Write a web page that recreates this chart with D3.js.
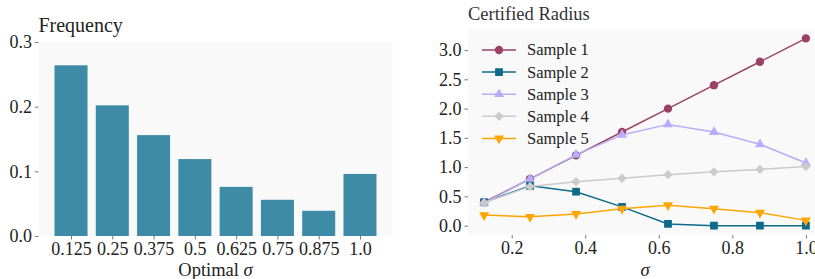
<!DOCTYPE html>
<html>
<head>
<meta charset="utf-8">
<script src="https://cdn.jsdelivr.net/npm/d3@7"></script>
<style>
  body { margin: 0; background: #fff; }
  svg text { font-family: "Liberation Serif", "Times New Roman", serif !important; }
</style>
</head>
<body>
<div id="chart"></div>
<script>
// left panel: frequency of the optimal sigma
const sigmaLabels = ['0.125', '0.25', '0.375', '0.5', '0.625', '0.75', '0.875', '1.0'];
const frequency = [0.264, 0.202, 0.156, 0.119, 0.076, 0.056, 0.039, 0.096];
const freqTicks = [0.0, 0.1, 0.2, 0.3];

// right panel: certified radius per sample
const sigmas = [0.125, 0.25, 0.375, 0.5, 0.625, 0.75, 0.875, 1.0];
const sample1 = [0.40, 0.80, 1.20, 1.60, 2.00, 2.40, 2.80, 3.20];
const sample2 = [0.40, 0.68, 0.58, 0.32, 0.03, 0.00, 0.00, 0.00];
const sample3 = [0.39, 0.80, 1.21, 1.55, 1.73, 1.60, 1.39, 1.07];
const sample4 = [0.39, 0.67, 0.75, 0.81, 0.87, 0.92, 0.96, 1.01];
const sample5 = [0.18, 0.15, 0.20, 0.29, 0.35, 0.29, 0.22, 0.09];
const sampleNames = ['Sample 1', 'Sample 2', 'Sample 3', 'Sample 4', 'Sample 5'];
const radiusTicks = [0.0, 0.5, 1.0, 1.5, 2.0, 2.5, 3.0];
const sigmaTicks = [0.2, 0.4, 0.6, 0.8, 1.0];

const W = 815, H = 279;
const bg = '#f9f9f9';
const tickColor = '#555';

const svg = d3.select('#chart').append('svg')
  .attr('width', W)
  .attr('height', H)
  .style('display', 'block');

// ---------- left: bar chart ----------
const L = { left: 38.4, right: 392.6, top: 42, bottom: 236 };

const xBar = d3.scaleLinear()
  .domain([-0.79, sigmaLabels.length - 1 + 0.79])
  .range([L.left, L.right]);

const yBar = d3.scaleLinear()
  .domain([0, 0.3])
  .range([L.bottom, L.top]);

const left = svg.append('g');

left.append('rect')
  .attr('x', L.left)
  .attr('y', L.top)
  .attr('width', L.right - L.left)
  .attr('height', L.bottom - L.top)
  .attr('fill', bg);

left.selectAll('rect.bar')
  .data(frequency)
  .enter()
  .append('rect')
  .attr('class', 'bar')
  .attr('x', (d, i) => xBar(i - 0.4))
  .attr('y', d => yBar(d))
  .attr('width', xBar(0.4) - xBar(-0.4))
  .attr('height', d => yBar(0) - yBar(d))
  .attr('fill', '#3e8ba7');

left.append('g')
  .attr('transform', `translate(${L.left},0)`)
  .call(d3.axisLeft(yBar).tickValues(freqTicks).tickFormat(d3.format('.1f')).tickSize(3.5).tickPadding(3));

left.append('g')
  .attr('transform', `translate(0,${L.bottom})`)
  .call(d3.axisBottom(xBar).tickValues(d3.range(sigmaLabels.length)).tickFormat(i => sigmaLabels[i]).tickSize(3.5).tickPadding(3));

left.append('text')
  .attr('x', L.left)
  .attr('y', 32)
  .attr('font-size', 20)
  .attr('fill', '#222')
  .text('Frequency');

left.append('text')
  .attr('x', (L.left + L.right) / 2)
  .attr('y', 275.5)
  .attr('text-anchor', 'middle')
  .attr('font-size', 18.5)
  .attr('fill', '#222')
  .html('Optimal <tspan font-style="italic">σ</tspan>');

// ---------- right: line chart ----------
const R = { left: 468, right: 822, top: 29, bottom: 235 };

const xLine = d3.scaleLinear()
  .domain([0.08125, 1.04375])
  .range([R.left, R.right]);

const yLine = d3.scaleLinear()
  .domain([-0.16, 3.36])
  .range([R.bottom, R.top]);

const right = svg.append('g');

right.append('rect')
  .attr('x', R.left)
  .attr('y', R.top)
  .attr('width', R.right - R.left)
  .attr('height', R.bottom - R.top)
  .attr('fill', bg);

right.append('g')
  .attr('transform', `translate(${R.left},0)`)
  .call(d3.axisLeft(yLine).tickValues(radiusTicks).tickFormat(d3.format('.1f')).tickSize(3.5).tickPadding(3));

right.append('g')
  .attr('transform', `translate(0,${R.bottom})`)
  .call(d3.axisBottom(xLine).tickValues(sigmaTicks).tickFormat(d3.format('.1f')).tickSize(3.5).tickPadding(3));

svg.selectAll('.domain').remove();
svg.selectAll('.tick line').attr('stroke', tickColor).attr('stroke-width', 0.8);
svg.selectAll('.tick text')
  .attr('font-size', 18)
  .attr('fill', '#222');

right.append('text')
  .attr('x', R.left)
  .attr('y', 20)
  .attr('font-size', 18.5)
  .attr('fill', '#333')
  .text('Certified Radius');

right.append('text')
  .attr('x', (R.left + R.right) / 2)
  .attr('y', 275.5)
  .attr('text-anchor', 'middle')
  .attr('font-size', 18.5)
  .attr('font-style', 'italic')
  .attr('fill', '#222')
  .text('σ');

const series = [
  { name: sampleNames[0], values: sample1, color: '#9b4264', marker: d3.symbolCircle, size: 55, rot: 0 },
  { name: sampleNames[1], values: sample2, color: '#0d6a8a', marker: d3.symbolSquare, size: 60, rot: 0 },
  { name: sampleNames[2], values: sample3, color: '#b8adfa', marker: d3.symbolTriangle, size: 44, rot: 0 },
  { name: sampleNames[3], values: sample4, color: '#cbcbcb', marker: d3.symbolDiamond2, size: 55, rot: 0 },
  { name: sampleNames[4], values: sample5, color: '#ffa500', marker: d3.symbolTriangle, size: 44, rot: 180 }
];

const line = d3.line()
  .x((d, i) => xLine(sigmas[i]))
  .y(d => yLine(d));

const clip = right.append('clipPath').attr('id', 'clipR');
clip.append('rect')
  .attr('x', R.left).attr('y', R.top)
  .attr('width', R.right - R.left).attr('height', R.bottom - R.top);

const plot = right.append('g').attr('clip-path', 'url(#clipR)');

series.forEach(s => {
  const g = plot.append('g');
  g.append('path')
    .datum(s.values)
    .attr('d', line)
    .attr('fill', 'none')
    .attr('stroke', s.color)
    .attr('stroke-width', 1.5);
  g.selectAll('path.mk')
    .data(s.values)
    .enter()
    .append('path')
    .attr('class', 'mk')
    .attr('d', d3.symbol().type(s.marker).size(s.size))
    .attr('transform', (d, i) => `translate(${xLine(sigmas[i])},${yLine(d)}) rotate(${s.rot})`)
    .attr('fill', s.color);
});

// legend
const legend = right.append('g').attr('transform', 'translate(482,50)');
series.forEach((s, i) => {
  const row = legend.append('g').attr('transform', `translate(0,${i * 22.1})`);
  row.append('line')
    .attr('x1', 0).attr('x2', 34)
    .attr('stroke', s.color)
    .attr('stroke-width', 1.5);
  row.append('path')
    .attr('d', d3.symbol().type(s.marker).size(s.size))
    .attr('transform', `translate(17,0) rotate(${s.rot})`)
    .attr('fill', s.color);
  row.append('text')
    .attr('x', 45)
    .attr('dy', '0.33em')
    .attr('font-size', 16.5)
    .attr('fill', '#222')
    .text(s.name);
});
</script>
</body>
</html>
